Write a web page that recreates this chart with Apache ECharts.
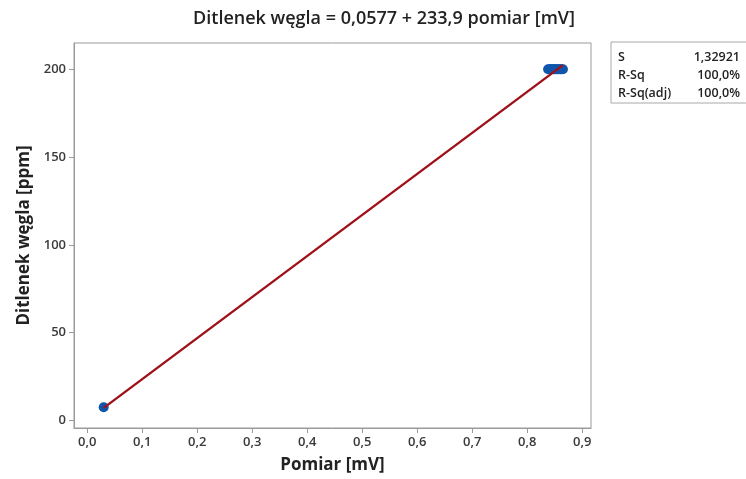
<!DOCTYPE html>
<html>
<head>
<meta charset="utf-8">
<script src="https://cdn.jsdelivr.net/npm/echarts@6/dist/echarts.min.js"></script>
<style>
  html, body { margin: 0; padding: 0; background: #fff; }
  #chart { width: 746px; height: 479px; }
</style>
</head>
<body>
<div id="chart"></div>
<script>
// Measured points: signal [mV] vs CO2 concentration [ppm]
const pomiar = [0.030, 0.838, 0.841, 0.843, 0.845, 0.848, 0.850, 0.852, 0.855, 0.857, 0.860, 0.862, 0.865];
const ditlenek = [7.4, 200, 200, 200, 200, 200, 200, 200, 200, 200, 200, 200, 200];

// Fitted regression: y = a + b * x
const fitIntercept = 0.0577;
const fitSlope = 233.9;

// Axis ticks
const xTicks = [0, 0.1, 0.2, 0.3, 0.4, 0.5, 0.6, 0.7, 0.8, 0.9];
const yTicks = [0, 50, 100, 150, 200];

// Summary table
const statNames = ['S', 'R-Sq', 'R-Sq(adj)'];
const statValues = ['1,32921', '100,0%', '100,0%'];

const xMin = Math.min(...pomiar), xMax = Math.max(...pomiar);
const fitLine = [xMin, xMax].map(x => [x, fitIntercept + fitSlope * x]);

const FONT = 'Open Sans';
const gray = '#9a9a9a';
const textCol = '#3a3a3a';

const chart = echarts.init(document.getElementById('chart'));

const statGraphics = [{
  type: 'rect',
  shape: { x: 611, y: 42, width: 140, height: 61 },
  style: { fill: '#fff', stroke: '#a8a8a8', lineWidth: 1 }
}];
statNames.forEach((n, i) => {
  const y = 57 + i * 18;
  statGraphics.push({
    type: 'text', x: 618, y: y,
    style: { text: n, font: '600 12.5px "' + FONT + '"', fill: '#222', verticalAlign: 'middle', align: 'left' }
  });
  statGraphics.push({
    type: 'text', x: 740, y: y,
    style: { text: statValues[i], font: '600 12.5px "' + FONT + '"', fill: '#222', verticalAlign: 'middle', align: 'right' }
  });
});

chart.setOption({
  animation: false,
  backgroundColor: '#fff',
  title: {
    text: 'Ditlenek węgla = ' + String(fitIntercept).replace('.', ',') + ' + ' + String(fitSlope).replace('.', ',') + ' pomiar [mV]',
    left: 379, top: 5, textAlign: 'center',
    textStyle: { fontFamily: FONT, fontSize: 18, fontWeight: 600, color: '#222' }
  },
  grid: {
    left: 74, right: 155, top: 43, bottom: 51,
    show: true, borderColor: gray, borderWidth: 1, backgroundColor: '#fff'
  },
  xAxis: {
    type: 'value', min: -0.024, max: 0.916,
    name: 'Pomiar [mV]', nameLocation: 'middle', nameGap: 29,
    nameTextStyle: { fontFamily: FONT, fontSize: 17, fontWeight: 700, color: '#222' },
    axisLine: { show: true, onZero: false, lineStyle: { color: gray } },
    axisTick: { show: true, customValues: xTicks, length: 5, lineStyle: { color: gray } },
    axisLabel: {
      customValues: xTicks, margin: 8,
      fontFamily: FONT, fontSize: 13, fontWeight: 600, color: textCol,
      formatter: v => v.toFixed(1).replace('.', ',')
    },
    splitLine: { show: false }
  },
  yAxis: {
    type: 'value', min: -4.4, max: 215,
    name: 'Ditlenek węgla [ppm]', nameLocation: 'middle', nameGap: 38, nameRotate: 90,
    nameTextStyle: { fontFamily: FONT, fontSize: 17, fontWeight: 700, color: '#222' },
    axisLine: { show: true, onZero: false, lineStyle: { color: gray } },
    axisTick: { show: true, customValues: yTicks, length: 5, lineStyle: { color: gray } },
    axisLabel: {
      customValues: yTicks, margin: 8,
      fontFamily: FONT, fontSize: 13, fontWeight: 600, color: textCol
    },
    splitLine: { show: false }
  },
  graphic: statGraphics,
  series: [
    {
      type: 'line', data: fitLine, symbol: 'none', z: 3,
      lineStyle: { color: '#9e111a', width: 2.4 }
    },
    {
      type: 'scatter', data: pomiar.map((x, i) => [x, ditlenek[i]]), z: 2,
      symbol: 'circle', symbolSize: 10,
      itemStyle: { color: '#0f56ab', opacity: 1 }
    }
  ]
});
</script>
</body>
</html>
